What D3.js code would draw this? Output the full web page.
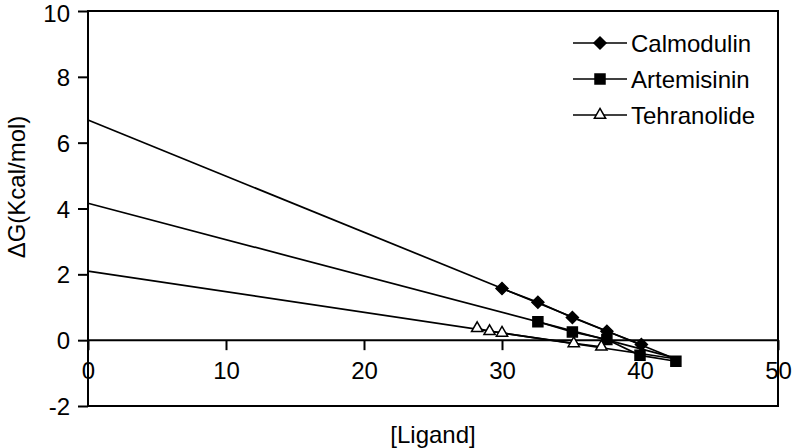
<!DOCTYPE html>
<html>
<head>
<meta charset="utf-8">
<script src="https://cdn.jsdelivr.net/npm/d3@7/dist/d3.min.js"></script>
<style>
  body { margin: 0; background: #fff; }
  text { font-family: "Liberation Sans", Arial, sans-serif; fill: #000; }
</style>
</head>
<body>
<div id="chart"></div>
<script>
// values
var seriesNames = ["Calmodulin", "Artemisinin", "Tehranolide"];
var calmodulinX = [30.0, 32.6, 35.1, 37.6, 40.1];
var calmodulinY = [1.57, 1.15, 0.69, 0.27, -0.13];
var artemisininX = [32.6, 35.1, 37.6, 40.0, 42.6];
var artemisininY = [0.56, 0.25, 0.02, -0.46, -0.64];
var tehranolideX = [28.2, 29.1, 30.0, 35.2, 37.2];
var tehranolideY = [0.36, 0.27, 0.22, -0.10, -0.20];
// trend lines: value at start and end x
var trendX = [0, 42.8];
var trendStart = [6.69, 4.16, 2.10];
var trendEnd = [-0.61, -0.57, -0.58];
var xTicks = [0, 10, 20, 30, 40, 50];
var yTicks = [-2, 0, 2, 4, 6, 8, 10];

var W = 792, H = 448;
var margin = {top: 11, right: 14, bottom: 42, left: 88};
var width = W - margin.left - margin.right,
    height = H - margin.top - margin.bottom;

var x = d3.scaleLinear().domain([0, 50]).range([0, width]);
var y = d3.scaleLinear().domain([-2, 10]).range([height, 0]);
var fmt = function(d) { return String(d); };

var svg = d3.select("#chart").append("svg")
    .attr("width", W)
    .attr("height", H);
var g = svg.append("g")
    .attr("transform", "translate(" + margin.left + "," + margin.top + ")");

function zip(xs, ys) {
  return xs.map(function(d, i) { return {x: d, y: ys[i]}; });
}
var series = [
  {name: seriesNames[0], pts: zip(calmodulinX, calmodulinY), sym: d3.symbolSquare, size: 72, rot: 45, fill: "#000"},
  {name: seriesNames[1], pts: zip(artemisininX, artemisininY), sym: d3.symbolSquare, size: 100, rot: 0, fill: "#000"},
  {name: seriesNames[2], pts: zip(tehranolideX, tehranolideY), sym: d3.symbolTriangle, size: 55, rot: 0, fill: "#fff"}
];

// y axis ticks and labels
var yAxis = g.append("g")
    .call(d3.axisLeft(y).tickValues(yTicks).tickFormat(fmt).tickSize(10).tickPadding(8));
yAxis.select(".domain").remove();
yAxis.selectAll("line").attr("stroke", "#000").attr("stroke-width", 2);
yAxis.selectAll("text").style("font-size", "24px")
    .attr("dy", function(d) { return d === 10 ? "0.45em" : "0.36em"; }); // keep top label inside

// x axis along y=0
var xAxis = g.append("g")
    .attr("transform", "translate(0," + y(0) + ")")
    .call(d3.axisBottom(x).tickValues(xTicks).tickFormat(fmt).tickSize(10).tickPadding(12));
xAxis.select(".domain").remove();
xAxis.selectAll("line").attr("stroke", "#000").attr("stroke-width", 2);
xAxis.selectAll("text").style("font-size", "24px").attr("dy", "0.72em");

g.append("line")
    .attr("x1", 0).attr("x2", width)
    .attr("y1", y(0)).attr("y2", y(0))
    .attr("stroke", "#000").attr("stroke-width", 2);

// trend lines and series lines
var line = d3.line().x(function(d) { return x(d.x); }).y(function(d) { return y(d.y); });
series.forEach(function(s, i) {
  g.append("path")
      .datum([{x: trendX[0], y: trendStart[i]}, {x: trendX[1], y: trendEnd[i]}])
      .attr("d", line)
      .attr("fill", "none")
      .attr("stroke", "#000")
      .attr("stroke-width", 1.7);
  g.append("path")
      .datum(s.pts)
      .attr("d", line)
      .attr("fill", "none")
      .attr("stroke", "#000")
      .attr("stroke-width", 1.7);
});

// markers
series.forEach(function(s) {
  g.selectAll(null)
      .data(s.pts)
      .enter().append("path")
      .attr("transform", function(d) { return "translate(" + x(d.x) + "," + y(d.y) + ") rotate(" + s.rot + ")"; })
      .attr("d", d3.symbol().type(s.sym).size(s.size))
      .attr("fill", s.fill)
      .attr("stroke", "#000")
      .attr("stroke-width", 1.5);
});

// frame
g.append("rect")
    .attr("width", width).attr("height", height)
    .attr("fill", "none")
    .attr("stroke", "#000").attr("stroke-width", 2);

// legend
var legend = g.selectAll(".legend")
    .data(series)
    .enter().append("g")
    .attr("class", "legend")
    .attr("transform", function(d, i) { return "translate(485," + (32 + i * 36) + ")"; });
legend.append("line")
    .attr("x1", 0).attr("x2", 54)
    .attr("stroke", "#000").attr("stroke-width", 1.7);
legend.append("path")
    .attr("transform", function(d) { return "translate(27,0) rotate(" + d.rot + ")"; })
    .attr("d", function(d) { return d3.symbol().type(d.sym).size(d.size)(); })
    .attr("fill", function(d) { return d.fill; })
    .attr("stroke", "#000")
    .attr("stroke-width", 1.5);
legend.append("text")
    .attr("x", 58)
    .attr("dy", "0.36em")
    .style("font-size", "24px")
    .text(function(d) { return d.name; });

// axis titles
svg.append("text")
    .attr("transform", "translate(25," + 187 + ") rotate(-90)")
    .attr("text-anchor", "middle")
    .style("font-size", "24px")
    .text("ΔG(Kcal/mol)");
svg.append("text")
    .attr("x", 433)
    .attr("y", 443)
    .attr("text-anchor", "middle")
    .style("font-size", "24px")
    .text("[Ligand]");
</script>
</body>
</html>
